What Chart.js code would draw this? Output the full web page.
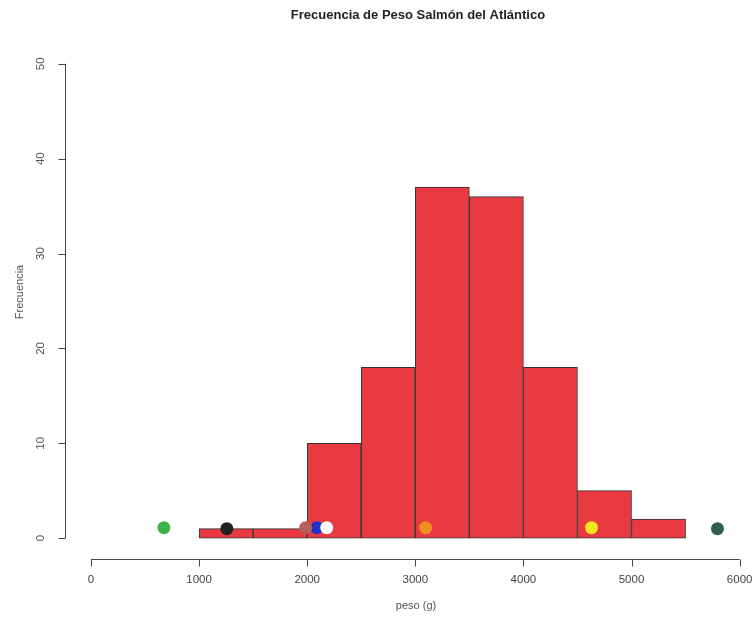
<!DOCTYPE html>
<html>
<head>
<meta charset="utf-8">
<script src="https://cdn.jsdelivr.net/npm/chart.js@4.4.1/dist/chart.umd.min.js"></script>
<style>
  html, body { margin: 0; padding: 0; background: #fff; }
  #contenedor { width: 755px; height: 619px; }
</style>
</head>
<body>
<div id="contenedor"><canvas id="grafico"></canvas></div>
<script>
// Datos del histograma (intervalos de 500 g)
const centrosIntervalo = [1250, 1750, 2250, 2750, 3250, 3750, 4250, 4750, 5250];
const frecuencias = [1, 1, 10, 18, 37, 36, 18, 5, 2];

// Puntos marcados sobre el histograma
const pesosPuntos = [675, 1257, 2089, 1986, 2181, 3096, 4630, 5795];
const alturaPuntos = [1.1, 1, 1.1, 1.1, 1.1, 1.1, 1.1, 1];
const coloresPuntos = ['#3cb44b', '#222222', '#2233cc', '#b5615a', '#ffffff', '#f0901e', '#f5e620', '#2e5e52'];

// Marcas de los ejes
const ticksX = [0, 1000, 2000, 3000, 4000, 5000, 6000];
const ticksY = [0, 10, 20, 30, 40, 50];

const titulo = 'Frecuencia de Peso Salmón del Atlántico';
const etiquetaX = 'peso (g)';
const etiquetaY = 'Frecuencia';

//Plugin para dibujar ejes estilo R (línea desde el primer al último tick).
const ejesR = {
    id: 'ejesR',
    afterDraw(chart) {
        const ctx = chart.ctx;
        const x = chart.scales.x;
        const y = chart.scales.y;
        const area = chart.chartArea;
        ctx.save();
        ctx.strokeStyle = '#444';
        ctx.fillStyle = '#444';
        ctx.lineWidth = 1;

        // Eje X
        const yEje = Math.round(area.bottom) + 0.5;
        ctx.beginPath();
        ctx.moveTo(x.getPixelForValue(ticksX[0]), yEje);
        ctx.lineTo(x.getPixelForValue(ticksX[ticksX.length - 1]), yEje);
        ticksX.forEach(t => {
            const px = Math.round(x.getPixelForValue(t)) + 0.5;
            ctx.moveTo(px, yEje);
            ctx.lineTo(px, yEje + 7);
        });
        ctx.stroke();
        ctx.font = '11.5px "Liberation Sans", Arial, sans-serif';
        ctx.textAlign = 'center';
        ctx.textBaseline = 'middle';
        ticksX.forEach(t => ctx.fillText(String(t), x.getPixelForValue(t), 580));

        // Eje Y
        const xEje = Math.round(area.left) + 0.5;
        ctx.beginPath();
        ctx.moveTo(xEje, y.getPixelForValue(ticksY[0]));
        ctx.lineTo(xEje, y.getPixelForValue(ticksY[ticksY.length - 1]));
        ticksY.forEach(t => {
            const py = Math.round(y.getPixelForValue(t)) + 0.5;
            ctx.moveTo(xEje, py);
            ctx.lineTo(xEje - 7, py);
        });
        ctx.stroke();
        ctx.fillStyle = '#555';
        ticksY.forEach(t => {
            ctx.save();
            ctx.translate(41, y.getPixelForValue(t));
            ctx.rotate(-Math.PI / 2);
            ctx.fillText(String(t), 0, 0);
            ctx.restore();
        });

        // Títulos
        ctx.font = '11px "Liberation Sans", Arial, sans-serif';
        ctx.fillText(etiquetaX, 416, 606);
        ctx.save();
        ctx.translate(20, 292);
        ctx.rotate(-Math.PI / 2);
        ctx.fillText(etiquetaY, 0, 0);
        ctx.restore();

        ctx.fillStyle = '#222';
        ctx.font = 'bold 13px "Liberation Sans", Arial, sans-serif';
        ctx.fillText(titulo, 418, 15);
        ctx.restore();
    }
};

const ctx = document.querySelector('#grafico').getContext('2d');
const myChart = new Chart(ctx, {
    type: 'bar',
    data: {
        datasets: [
            {
                type: 'scatter',
                data: pesosPuntos.map((p, i) => ({ x: p, y: alturaPuntos[i] })),
                pointRadius: 6.5,
                pointHoverRadius: 6.5,
                pointBackgroundColor: coloresPuntos,
                pointBorderColor: coloresPuntos,
                pointBorderWidth: 0,
                order: 0
            },
            {
                type: 'bar',
                data: centrosIntervalo.map((c, i) => ({ x: c, y: frecuencias[i] })),
                backgroundColor: '#e83a40',
                borderColor: '#333',
                borderWidth: 1,
                borderSkipped: false,
                barPercentage: 1,
                categoryPercentage: 1,
                order: 1
            }
        ]
    },
    options: {
        responsive: true,
        maintainAspectRatio: false,
        animation: false,
        layout: { padding: { left: 65, right: 2, top: 60, bottom: 60 } },
        plugins: {
            legend: { display: false },
            title: { display: false },
            tooltip: { enabled: false }
        },
        scales: {
            x: { type: 'linear', min: -240, max: 6082, offset: false, display: false },
            y: { min: -2.2, max: 50.4, display: false }
        }
    },
    plugins: [ejesR]
});
</script>
</body>
</html>
